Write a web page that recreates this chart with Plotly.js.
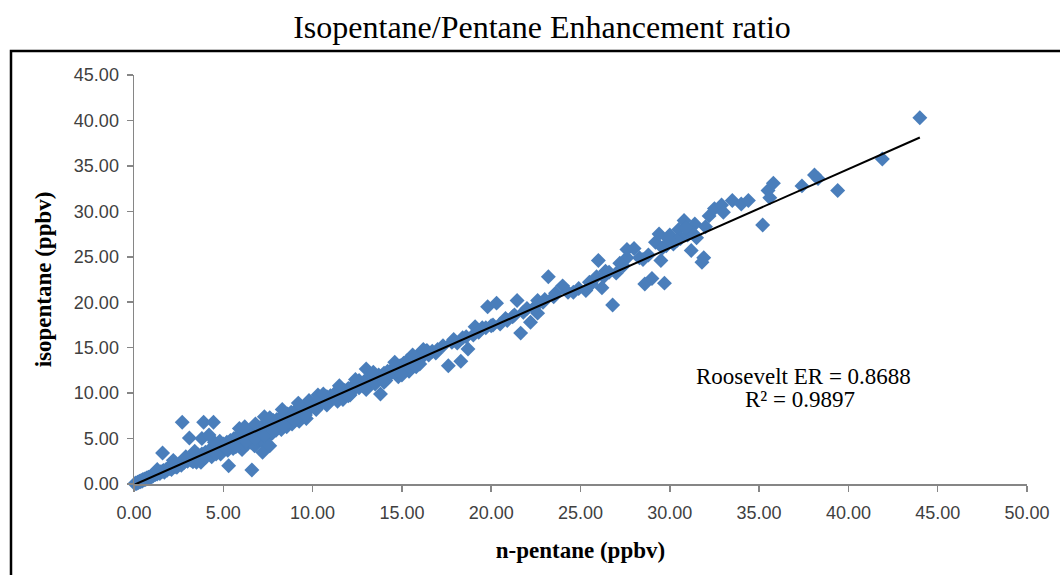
<!DOCTYPE html>
<html>
<head>
<meta charset="utf-8">
<script src="https://cdn.plot.ly/plotly-3.0.1.min.js"></script>
<style>html,body{margin:0;padding:0;background:#fff;}#chart{width:1060px;height:575px;}</style>
</head>
<body>
<div id="chart"></div>
<script>
// n-pentane (ppbv) values
const nPentane = [
 0.05,0.1,0.15,0.2,0.25,0.3,0.35,0.4,0.45,0.5,0.55,0.6,0.65,0.7,0.75,0.8,0.85,0.9,0.95,1.0,
 1.05,1.1,1.2,1.25,1.3,1.4,1.45,1.5,1.6,1.65,1.7,1.8,1.85,1.9,2.0,2.05,2.1,2.2,2.3,2.35,
 2.4,2.5,2.6,2.65,2.7,2.8,2.9,3.0,3.1,3.2,3.25,3.3,3.4,3.5,3.6,3.7,3.75,3.8,3.9,4.0,
 4.1,4.2,4.3,4.35,4.4,4.5,4.6,4.7,4.8,4.85,4.9,5.0,5.1,5.2,5.25,5.3,5.4,5.5,5.55,5.6,
 5.7,5.8,5.85,5.9,6.0,6.05,6.1,6.2,6.3,6.35,6.4,6.5,6.55,6.6,6.7,6.75,6.8,6.9,6.95,7.0,
 7.1,7.15,7.2,7.3,7.35,7.4,7.5,7.55,7.6,7.7,7.75,7.8,7.9,7.95,8.0,8.1,8.2,8.25,8.3,8.4,
 8.5,8.55,8.6,8.7,8.8,8.85,8.9,9.0,9.1,9.2,9.25,9.3,9.4,9.5,9.6,9.65,9.7,9.8,9.9,10.0,
 10.1,10.2,10.3,10.4,10.5,10.6,10.7,10.8,10.9,11.0,11.1,11.2,11.3,11.4,11.5,11.6,11.7,11.8,11.9,12.0,
 12.1,12.2,12.3,12.4,12.6,12.7,12.8,12.9,13.1,13.2,13.3,13.4,13.6,13.7,13.9,14.0,14.1,14.2,14.3,14.5,
 14.6,14.7,14.8,14.9,15.0,15.1,15.2,15.3,15.4,15.5,15.6,15.7,15.8,15.9,16.0,16.1,16.3,16.5,16.7,16.9,
 17.0,5.9,6.2,7.3,8.3,9.2,2.2,1.3,4.5,3.4,11.5,12.6,10.3,
 2.7,3.9,4.45,3.1,3.8,4.2,1.6,5.3,6.6,7.2,7.6,5.6,13.0,13.8,13.5,14.4,15.8,16.1,16.4,17.6,
 17.9,18.4,18.3,18.7,19.1,19.5,20.1,19.8,20.3,20.8,21.2,21.45,21.65,22.2,22.6,22.4,22.6,23.0,23.2,23.6,
 24.0,24.6,25.3,25.6,26.2,25.9,26.0,26.4,26.8,27.0,27.2,27.6,27.6,28.0,28.3,28.6,29.0,29.5,29.2,29.4,
 29.7,29.8,30.0,30.5,30.8,31.5,31.2,31.4,32.0,31.8,31.9,32.2,32.5,32.9,33.0,33.5,34.0,34.4,35.2,35.6,
 35.5,35.8,37.4,38.1,38.3,39.4,41.9,44.0,
 17.3,17.8,18.1,18.6,19.0,19.3,19.7,20.0,20.5,20.9,21.3,21.8,22.0,22.9,23.5,24.3,24.9,25.5,26.3,26.6,
 27.4,28.5,28.8,29.6,30.2,30.6,31.0,31.3,30.4,30.9,29.9,
 3.5,4.0,4.6,5.2,5.7,6.3,6.8,7.3,7.8,8.4,9.0,9.6,10.2,10.8,11.4,12.0,13.0,14.0,15.0,16.0,
 6.8,7.6,9.8,10.6,12.4,13.4,14.6,15.6,16.2,4.8,2.9
];
// isopentane (ppbv) values
const isoPentane = [
 0.02,0.1,0.05,0.2,0.15,0.3,0.25,0.4,0.3,0.5,0.45,0.55,0.5,0.65,0.6,0.75,0.7,0.8,0.75,0.95,
 0.85,1.0,1.05,1.15,1.1,1.3,1.15,1.35,1.4,1.5,1.3,1.6,1.5,1.75,1.7,1.85,1.6,1.95,1.9,2.1,
 1.85,2.2,2.3,2.05,2.45,2.35,2.6,2.5,2.75,2.6,2.9,2.45,3.0,2.85,3.2,2.9,2.4,3.3,3.1,3.5,
 3.2,3.7,3.4,3.0,3.9,3.6,4.1,3.7,4.2,3.3,4.0,4.4,4.1,4.6,3.7,4.3,4.8,4.5,3.9,5.0,
 4.6,5.2,4.2,4.8,5.3,3.8,4.9,5.5,5.1,4.4,5.7,5.3,4.6,5.8,5.4,4.2,6.0,5.6,4.8,6.2,
 5.9,5.0,6.4,6.0,4.4,6.6,6.2,5.3,6.8,6.5,5.6,7.0,6.7,5.9,7.1,6.8,7.3,6.0,7.0,7.5,
 7.2,6.3,7.7,7.4,7.9,6.6,7.6,8.0,7.7,8.2,6.9,7.9,8.4,8.1,8.5,7.2,8.3,8.7,8.4,8.8,
 8.6,9.0,8.7,9.2,8.9,9.4,9.1,9.6,9.2,9.7,9.4,9.9,9.5,10.0,9.7,10.2,9.3,10.3,10.0,10.5,
 9.8,10.7,10.4,10.9,10.6,11.1,10.8,11.3,11.0,11.6,11.2,11.8,11.5,12.0,11.7,12.2,11.4,12.4,12.0,12.7,
 12.3,12.9,11.8,13.0,12.6,13.3,12.9,13.6,12.4,13.4,13.8,13.1,14.0,13.5,14.3,13.9,14.6,14.2,14.6,14.4,
 14.8,6.1,6.3,7.4,8.2,8.9,2.6,1.6,4.6,3.6,10.8,11.4,9.8,
 6.8,6.8,6.8,5.05,5.0,5.4,3.4,2.0,1.55,3.5,4.2,4.3,12.65,9.9,11.0,12.5,12.9,14.1,14.7,13.0,
 15.9,16.1,13.5,14.85,17.3,17.2,17.5,19.5,19.9,18.2,18.4,20.2,16.6,17.8,18.8,19.4,20.2,20.3,22.8,21.0,
 21.8,21.1,21.3,22.0,21.6,22.8,24.6,23.4,19.7,23.2,24.3,24.9,25.8,25.9,24.9,22.0,22.6,24.6,26.6,27.5,
 22.1,26.2,27.4,28.0,29.0,27.1,25.7,28.6,28.3,24.4,24.9,29.5,30.3,30.7,29.9,31.2,30.8,31.2,28.5,31.5,
 32.3,33.1,32.8,34.0,33.6,32.3,35.75,40.3,
 15.2,15.6,15.5,16.2,16.4,16.7,17.2,17.4,17.6,18.0,18.6,18.9,19.3,20.0,20.6,21.1,21.5,22.2,22.8,23.3,
 24.0,24.7,25.2,26.0,26.4,27.0,27.4,27.6,26.8,28.2,27.0,
 2.4,2.9,3.3,3.9,4.1,4.7,5.0,5.3,5.8,6.4,7.0,7.6,8.2,8.7,9.1,9.7,10.4,11.2,12.0,13.2,
 6.6,7.3,9.2,9.9,11.5,12.3,13.4,14.2,14.8,4.7,3.0
];
// linear fit shown on the chart
const fitSlope = 0.8688;
const fitIntercept = -0.1;
const fitLabel = "Roosevelt ER = 0.8688";
const r2Label = "R\u00b2 = 0.9897";
const xTickVals = [0,5,10,15,20,25,30,35,40,45,50];
const yTickVals = [0,5,10,15,20,25,30,35,40,45];

const xMin = Math.min(...nPentane), xMax = Math.max(...nPentane);
const fitX = [xMin, xMax];
const fitY = fitX.map(v => fitSlope * v + fitIntercept);

const tickFont = {family: "Liberation Sans, Arial, sans-serif", size: 18, color: "#404040"};
const serif = "Liberation Serif, Times New Roman, serif";

const traces = [
  {
    type: "scatter", mode: "markers", x: nPentane, y: isoPentane,
    marker: {symbol: "diamond", size: 11.5, color: "#4a7ebb", line: {width: 0}},
    cliponaxis: false, showlegend: false, hoverinfo: "x+y"
  },
  {
    type: "scatter", mode: "lines", x: fitX, y: fitY,
    line: {color: "#000000", width: 2}, cliponaxis: false, showlegend: false
  }
];

const W = 1060, H = 575, L = 134, R = 33, T = 75, B = 91;
const pw = W - L - R, ph = H - T - B;
const px2paperX = p => (p - L) / pw;
const px2paperY = p => (H - B - p) / ph;

const layout = {
  width: W, height: H,
  margin: {l: L, r: R, t: T, b: B, pad: 0},
  paper_bgcolor: "#ffffff", plot_bgcolor: "#ffffff",
  title: {
    text: "Isopentane/Pentane Enhancement ratio",
    font: {family: serif, size: 32, color: "#000000"},
    x: 542 / W, xanchor: "center", xref: "container",
    y: 1 - 27 / H, yanchor: "middle", yref: "container"
  },
  xaxis: {
    range: [0, 50], tickvals: xTickVals, tickformat: ".2f",
    showgrid: false, zeroline: false, showline: true, linecolor: "#868686", linewidth: 1.5,
    ticks: "outside", ticklen: 6, tickcolor: "#868686", tickwidth: 1.5,
    ticklabelstandoff: 6,
    tickfont: tickFont,
    title: {text: "<b>n-pentane (ppbv)</b>", font: {family: serif, size: 23, color: "#000000"}, standoff: 20}
  },
  yaxis: {
    range: [0, 45], tickvals: yTickVals, tickformat: ".2f",
    showgrid: false, zeroline: false, showline: true, linecolor: "#868686", linewidth: 1.5,
    ticks: "outside", ticklen: 6, tickcolor: "#868686", tickwidth: 1.5,
    ticklabelstandoff: 4,
    tickfont: tickFont,
    title: {text: "<b>isopentane (ppbv)</b>", font: {family: serif, size: 23, color: "#000000"}, standoff: 16}
  },
  annotations: [
    {text: fitLabel, xref: "paper", yref: "paper", x: px2paperX(803), y: px2paperY(376),
     xanchor: "center", yanchor: "middle", showarrow: false,
     font: {family: serif, size: 23, color: "#000000"}},
    {text: r2Label, xref: "paper", yref: "paper", x: px2paperX(800), y: px2paperY(399),
     xanchor: "center", yanchor: "middle", showarrow: false,
     font: {family: serif, size: 23, color: "#000000"}}
  ],
  shapes: [
    {type: "rect", xref: "paper", yref: "paper",
     x0: px2paperX(11), x1: px2paperX(1080), y0: px2paperY(600), y1: px2paperY(51),
     line: {color: "#000000", width: 2.5}, fillcolor: "rgba(0,0,0,0)", layer: "below"}
  ]
};

Plotly.newPlot("chart", traces, layout, {displayModeBar: false, staticPlot: true});
</script>
</body>
</html>
